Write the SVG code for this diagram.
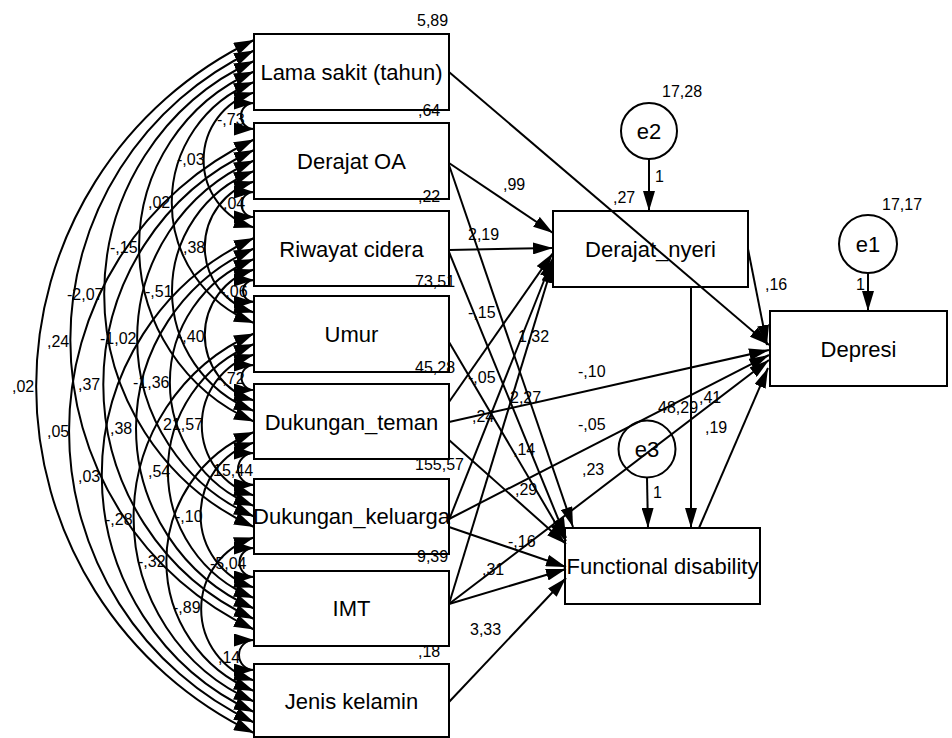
<svg xmlns="http://www.w3.org/2000/svg" width="952" height="738" viewBox="0 0 952 738">
<style>
.box{fill:none;stroke:#000;stroke-width:2}
.ell{fill:none;stroke:#000;stroke-width:2}
.lbl{font-family:"Liberation Sans",Arial,sans-serif;font-size:22px;fill:#000}
.num{font-family:"Liberation Sans",Arial,sans-serif;font-size:16px;fill:#000}
.c{fill:none;stroke:#000;stroke-width:2;marker-start:url(#ch);marker-end:url(#ch)}
.a{fill:none;stroke:#000;stroke-width:2;marker-end:url(#ah)}
</style>
<defs>
<marker id="ah" viewBox="0 0 20 12" refX="20" refY="6" markerWidth="20" markerHeight="12" markerUnits="userSpaceOnUse" orient="auto"><path d="M0,0 L20,6 L0,12 z" fill="#000"/></marker>
<marker id="ch" viewBox="0 0 20 13" refX="20" refY="6.5" markerWidth="20" markerHeight="13" markerUnits="userSpaceOnUse" orient="auto-start-reverse"><path d="M0,0 L20,6.5 L0,13 z" fill="#000"/></marker>
</defs>
<rect width="952" height="738" fill="#fff"/>
<g id="connectors">
<path class="c" d="M254,103 A13,13 0 0 0 254,129"/>
<path class="c" d="M254,192 A12.5,12.5 0 0 0 254,217"/>
<path class="c" d="M254,280 A11,11 0 0 0 254,302"/>
<path class="c" d="M254,365 A12.5,12.5 0 0 0 254,390"/>
<path class="c" d="M254,453 A16,16 0 0 0 254,485"/>
<path class="c" d="M254,548 A14.5,14.5 0 0 0 254,577"/>
<path class="c" d="M254,640 A15,15 0 0 0 254,670"/>
<path class="c" d="M254,92.5 A70.4,70.4 0 0 0 254,227.5"/>
<path class="c" d="M254,181.5 A68.2,68.2 0 0 0 254,312.5"/>
<path class="c" d="M254,269.5 A68.2,68.2 0 0 0 254,400.5"/>
<path class="c" d="M254,354.5 A73.7,73.7 0 0 0 254,495.5"/>
<path class="c" d="M254,442.5 A75.9,75.9 0 0 0 254,587.5"/>
<path class="c" d="M254,537.5 A74.8,74.8 0 0 0 254,680.5"/>
<path class="c" d="M254,82 A129.4,129.4 0 0 0 254,323"/>
<path class="c" d="M254,171 A128.8,128.8 0 0 0 254,411"/>
<path class="c" d="M254,259 A132.7,132.7 0 0 0 254,506"/>
<path class="c" d="M254,344 A136.7,136.7 0 0 0 254,598"/>
<path class="c" d="M254,432 A139.5,139.5 0 0 0 254,691"/>
<path class="c" d="M254,71.5 A190.7,190.7 0 0 0 254,421.5"/>
<path class="c" d="M254,160.5 A194,194 0 0 0 254,516.5"/>
<path class="c" d="M254,248.5 A196.3,196.3 0 0 0 254,608.5"/>
<path class="c" d="M254,333.5 A200.8,200.8 0 0 0 254,701.5"/>
<path class="c" d="M254,61 A256.1,256.1 0 0 0 254,527"/>
<path class="c" d="M254,150 A257.8,257.8 0 0 0 254,619"/>
<path class="c" d="M254,238 A260.6,260.6 0 0 0 254,712"/>
<path class="c" d="M254,50.5 A320,320 0 0 0 254,629.5"/>
<path class="c" d="M254,139.5 A322.2,322.2 0 0 0 254,722.5"/>
<path class="c" d="M254,40 A384.5,384.5 0 0 0 254,733"/>

<path class="a" d="M449,72 L769,345"/>
<path class="a" d="M449,163 L553,233"/>
<path class="a" d="M449,165 L573,527"/>
<path class="a" d="M449,250 L553,248"/>
<path class="a" d="M449,252 L566,538"/>
<path class="a" d="M449,342 L566,541"/>
<path class="a" d="M449,402 L553,253"/>
<path class="a" d="M449,422 L769,350"/>
<path class="a" d="M449,440 L566,544"/>
<path class="a" d="M449,520 L553,258"/>
<path class="a" d="M449,519 L769,355"/>
<path class="a" d="M449,527 L566,567"/>
<path class="a" d="M449,604 L553,263"/>
<path class="a" d="M449,604 L769,360"/>
<path class="a" d="M449,604 L566,569"/>
<path class="a" d="M449,702 L566,578"/>
<path class="a" d="M748,249 L767,345"/>
<path class="a" d="M691,287 L691,528"/>
<path class="a" d="M699,528 L768,368"/>
<path class="a" d="M649,159 L649,211"/>
<path class="a" d="M868,273 L868,311"/>
<path class="a" d="M647,478 L648,528"/>
</g>

<g id="lama"><rect class="box" x="254" y="34" width="195" height="76"/><text class="lbl" x="351.5" y="80" text-anchor="middle">Lama sakit (tahun)</text></g>
<g id="derajat_oa"><rect class="box" x="254" y="123" width="195" height="76"/><text class="lbl" x="351.5" y="169" text-anchor="middle">Derajat OA</text></g>
<g id="riwayat"><rect class="box" x="254" y="211" width="195" height="75"/><text class="lbl" x="351.5" y="257" text-anchor="middle">Riwayat cidera</text></g>
<g id="umur"><rect class="box" x="254" y="296" width="195" height="76"/><text class="lbl" x="351.5" y="342" text-anchor="middle">Umur</text></g>
<g id="teman"><rect class="box" x="254" y="384" width="195" height="75"/><text class="lbl" x="351.5" y="430" text-anchor="middle">Dukungan_teman</text></g>
<g id="keluarga"><rect class="box" x="254" y="479" width="195" height="75"/><text class="lbl" x="351.5" y="524" text-anchor="middle">Dukungan_keluarga</text></g>
<g id="imt"><rect class="box" x="254" y="571" width="195" height="75"/><text class="lbl" x="351.5" y="616" text-anchor="middle">IMT</text></g>
<g id="jenis"><rect class="box" x="254" y="664" width="195" height="73"/><text class="lbl" x="351.5" y="709" text-anchor="middle">Jenis kelamin</text></g>
<g id="nyeri"><rect class="box" x="553" y="211" width="195" height="76"/><text class="lbl" x="650.5" y="257" text-anchor="middle">Derajat_nyeri</text></g>
<g id="depresi"><rect class="box" x="770" y="311" width="177" height="75"/><text class="lbl" x="858.5" y="357" text-anchor="middle">Depresi</text></g>
<g id="fd"><rect class="box" x="565" y="528" width="195" height="76"/><text class="lbl" x="662.5" y="574" text-anchor="middle">Functional disability</text></g>
<g id="e2"><circle class="ell" cx="649" cy="131" r="28"/><text class="lbl" x="649" y="139" text-anchor="middle">e2</text></g>
<g id="e1"><circle class="ell" cx="868" cy="244" r="29"/><text class="lbl" x="868" y="252" text-anchor="middle">e1</text></g>
<g id="e3"><circle class="ell" cx="647" cy="449" r="28.5"/><text class="lbl" x="647" y="457" text-anchor="middle">e3</text></g>

<g id="labels" class="num">
<text x="417" y="26">5,89</text>
<text x="418" y="116">,64</text>
<text x="418" y="202">,22</text>
<text x="415" y="287">73,51</text>
<text x="415" y="373">45,28</text>
<text x="415" y="470">155,57</text>
<text x="417" y="562">9,39</text>
<text x="418" y="657">,18</text>
<text x="662" y="97">17,28</text>
<text x="882" y="210">17,17</text>
<text x="655" y="182">1</text>
<text x="856" y="290">1</text>
<text x="653" y="498">1</text>
<text x="613" y="203">,27</text>
<text x="765" y="290">,16</text>
<text x="503" y="190">,99</text>
<text x="468" y="240">2,19</text>
<text x="468" y="318">-,15</text>
<text x="518" y="342">1,32</text>
<text x="468" y="383">-,05</text>
<text x="510" y="403">2,27</text>
<text x="472" y="422">,24</text>
<text x="513" y="455">,14</text>
<text x="578" y="377">-,10</text>
<text x="578" y="430">-,05</text>
<text x="658" y="413">48,29</text>
<text x="699" y="403">,41</text>
<text x="705" y="433">,19</text>
<text x="582" y="475">,23</text>
<text x="515" y="495">,29</text>
<text x="508" y="547">-,16</text>
<text x="482" y="575">,31</text>
<text x="470" y="635">3,33</text>
<text x="217" y="125">-,73</text>
<text x="223" y="209">,04</text>
<text x="220" y="297">-,06</text>
<text x="217" y="384">-,72</text>
<text x="213" y="476">15,44</text>
<text x="210" y="569">-5,04</text>
<text x="218" y="663">,14</text>
<text x="177" y="165">-,03</text>
<text x="183" y="253">,38</text>
<text x="177" y="342">-,40</text>
<text x="163" y="430">21,57</text>
<text x="175" y="522">-,10</text>
<text x="173" y="613">-,89</text>
<text x="148" y="208">,02</text>
<text x="145" y="297">-,51</text>
<text x="133" y="388">-1,36</text>
<text x="148" y="477">,54</text>
<text x="138" y="567">-,32</text>
<text x="110" y="253">-,15</text>
<text x="100" y="344">-1,02</text>
<text x="110" y="434">,38</text>
<text x="105" y="525">-,28</text>
<text x="67" y="300">-2,07</text>
<text x="78" y="390">,37</text>
<text x="78" y="482">,03</text>
<text x="47" y="347">,24</text>
<text x="47" y="437">,05</text>
<text x="12" y="392">,02</text>
</g>
</svg>
